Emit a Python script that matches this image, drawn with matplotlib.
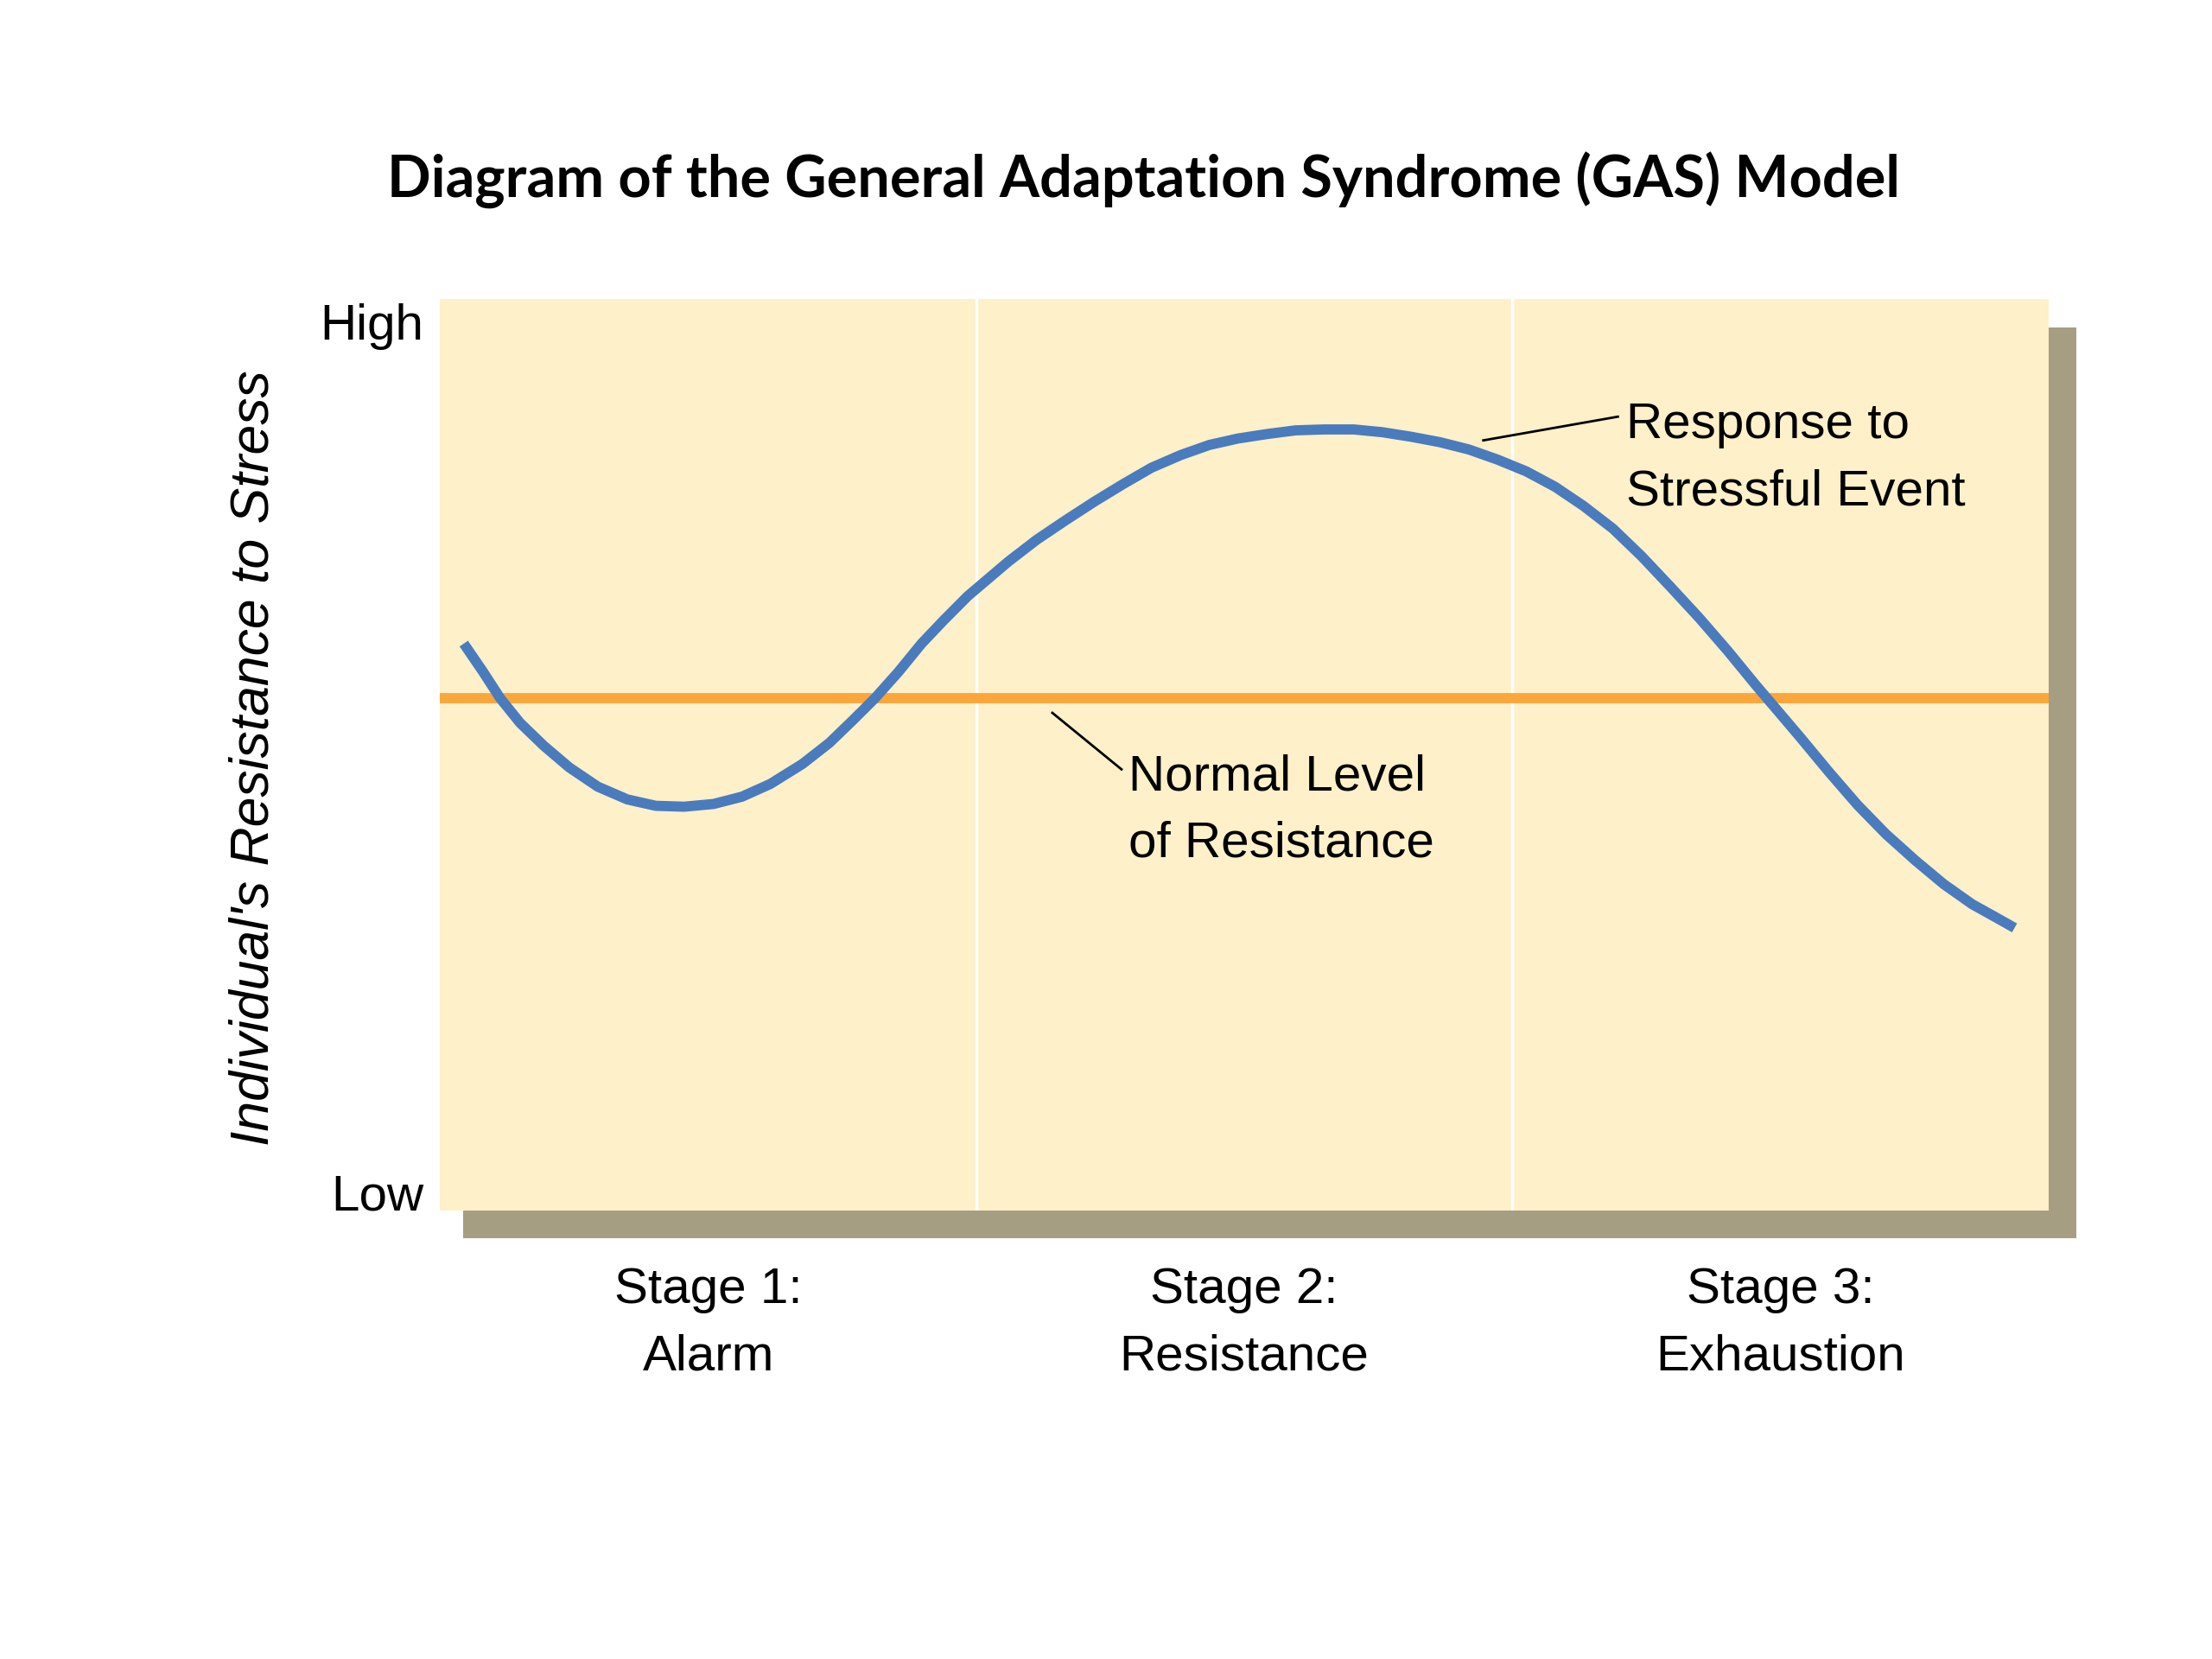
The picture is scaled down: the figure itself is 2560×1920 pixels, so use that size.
import matplotlib.pyplot as plt
from matplotlib.patches import Rectangle

# x runs 0-3 across the three stages, y 0 (low) to 1 (high) resistance
stage_labels = ["Stage 1:\nAlarm", "Stage 2:\nResistance", "Stage 3:\nExhaustion"]
stage_centers = [0.5, 1.5, 2.5]
stage_edges = [1, 2]
normal_level = 0.562

# response curve
resp_x = [0.044, 0.080, 0.112, 0.149, 0.193, 0.241, 0.294, 0.349, 0.402, 0.455,
          0.510, 0.563, 0.616, 0.676, 0.726, 0.770, 0.811, 0.855, 0.898, 0.940,
          0.984, 1.060, 1.113, 1.166, 1.221, 1.274, 1.327, 1.382, 1.435, 1.488,
          1.543, 1.596, 1.649, 1.704, 1.757, 1.811, 1.865, 1.919, 1.972, 2.026,
          2.080, 2.133, 2.188, 2.241, 2.294, 2.349, 2.402, 2.455, 2.510, 2.536,
          2.591, 2.644, 2.697, 2.752, 2.805, 2.858, 2.913, 2.937]
resp_y = [0.622, 0.591, 0.562, 0.535, 0.510, 0.486, 0.465, 0.451, 0.444, 0.443,
          0.446, 0.454, 0.468, 0.490, 0.513, 0.538, 0.562, 0.591, 0.622, 0.648,
          0.674, 0.712, 0.736, 0.757, 0.778, 0.797, 0.815, 0.829, 0.840, 0.847,
          0.852, 0.856, 0.857, 0.857, 0.854, 0.849, 0.843, 0.835, 0.824, 0.811,
          0.794, 0.773, 0.748, 0.718, 0.685, 0.650, 0.614, 0.576, 0.538, 0.520,
          0.481, 0.445, 0.413, 0.384, 0.358, 0.336, 0.318, 0.310]

font = "Liberation Sans"
cream = "#FEF0C9"
shadow = "#A69E83"
orange = "#FBA63A"
blue = "#4A7BBC"
fs = 42

fig = plt.figure(figsize=(25.6, 19.2), dpi=100)

# drop shadow behind the panel
fig.add_artist(Rectangle((0.2092, 0.2534), 0.7296, 0.5493, transform=fig.transFigure,
                         facecolor=shadow, edgecolor="none", zorder=-1))

ax = fig.add_axes([0.199, 0.2704, 0.727, 0.5493])
ax.set_facecolor(cream)
for s in ax.spines.values():
    s.set_visible(False)
ax.set_xlim(0, 3)
ax.set_ylim(0, 1)
ax.set_xticks([])
ax.set_yticks([])

for e in stage_edges:
    ax.axvline(e, color="white", lw=2.5, zorder=1)

ax.axhline(normal_level, color=orange, lw=8.5, zorder=2)
ax.plot(resp_x, resp_y, color=blue, lw=8.5, solid_capstyle="butt",
        solid_joinstyle="round", zorder=3)

# stage labels under the panel (baseline = last line)
for xc, lab in zip(stage_centers, stage_labels):
    ax.text(xc, -0.175, lab, fontsize=fs, family=font, ha="center", va="baseline",
            linespacing=1.55, clip_on=False)

# High / Low markers
ax.text(-0.031, 0.956, "High", fontsize=fs, family=font, ha="right", va="baseline")
ax.text(-0.031, 0.0, "Low", fontsize=fs, family=font, ha="right", va="baseline")

ax.text(-0.347, 0.497, "Individual's Resistance to Stress", fontsize=45, family=font,
        style="italic", rotation=90, ha="center", va="center")

# callouts
ax.plot([1.946, 2.197], [0.845, 0.871], color="black", lw=2, zorder=4)
ax.text(2.212, 0.774, "Response to\nStressful Event", fontsize=fs, family=font,
        ha="left", va="baseline", linespacing=1.55)
ax.plot([1.142, 1.271], [0.546, 0.484], color="black", lw=2, zorder=4)
ax.text(1.284, 0.388, "Normal Level\nof Resistance", fontsize=fs, family=font,
        ha="left", va="baseline", linespacing=1.55)

fig.text(0.517, 0.891, "Diagram of the General Adaptation Syndrome (GAS) Model",
         fontsize=48, fontweight="bold", family="Lato", ha="center", va="center")

fig.savefig("out.png", dpi=100, facecolor="white")
